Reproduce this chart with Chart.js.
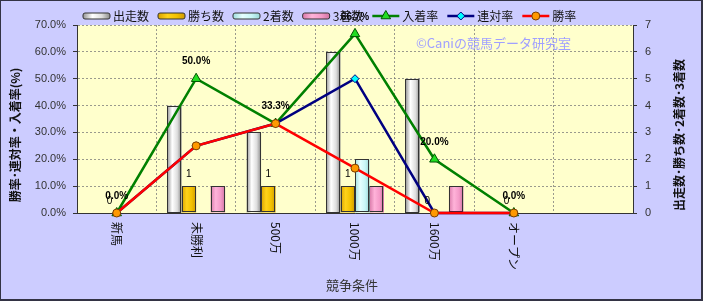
<!DOCTYPE html>
<html lang="ja">
<head>
<meta charset="utf-8">
<title>競争条件別成績</title>
<script src="https://cdn.jsdelivr.net/npm/chart.js@4/dist/chart.umd.min.js"></script>
<style>
  html, body { margin: 0; padding: 0; background: #ccccff; }
  #wrap { width: 703px; height: 301px; }
  canvas { display: block; }
</style>
</head>
<body>
<div id="wrap"><canvas id="raceChart" width="703" height="301"></canvas></div>
<script>
// 競争条件別 成績グラフ

// 横軸（競争条件）
const categories = ['新馬', '未勝利', '500万', '1000万', '1600万', 'オープン', ''];

// 頭数（右軸）
const runners = [0, 4, 3, 6, 5, 0, null];
const wins = [0, 1, 1, 1, 0, 0, null];
const seconds = [0, 0, 0, 2, 0, 0, null];
const thirds = [0, 1, 0, 1, 1, 0, null];

// 率（左軸, %）
const placeRate = [0, 50.0, 33.3, 66.7, 20.0, 0, null];
const rentaiRate = [0, 25.0, 33.3, 50.0, 0, 0, null];
const winRate = [0, 25.0, 33.3, 16.7, 0, 0, null];

// 目盛り
const rateTicks = [0, 10, 20, 30, 40, 50, 60, 70];
const countTicks = [0, 1, 2, 3, 4, 5, 6, 7];

const FONT_JP = "'Noto Sans CJK JP', 'Noto Sans', sans-serif";
const FONT_NUM = "'Liberation Sans', 'Noto Sans CJK JP', sans-serif";

// 棒の見た目（横グラデーション）
const barLooks = [
    { label: '出走数', stops: ['#949494', '#ffffff', '#dddddd', '#8a8a8a'] },
    { label: '勝ち数', stops: ['#d9a200', '#ffd21a', '#f2c000', '#d09a00'] },
    { label: '2着数', stops: ['#9fdede', '#e6ffff', '#c8f6f6', '#98d6d6'] },
    { label: '3着数', stops: ['#d97aa9', '#ffb3d9', '#f49ac8', '#d073a2'] }
];

// 折れ線の見た目
const lineLooks = [
    { label: '入着率', color: '#008000', fill: '#22dd22', edge: '#005500', style: 'triangle', radius: 5.5 },
    { label: '連対率', color: '#000080', fill: '#00ffff', edge: '#000080', style: 'rectRot', radius: 4 },
    { label: '勝率', color: '#ff0000', fill: '#ff9900', edge: '#7a3d00', style: 'circle', radius: 4 }
];

function barGradient(ctx, left, width, stops) {
    const g = ctx.createLinearGradient(left, 0, left + width, 0);
    g.addColorStop(0, stops[0]);
    g.addColorStop(0.35, stops[1]);
    g.addColorStop(0.7, stops[2]);
    g.addColorStop(1, stops[3]);
    return g;
}

function drawMarker(ctx, look, x, y) {
    const r = look.radius;
    ctx.save();
    ctx.fillStyle = look.fill;
    ctx.strokeStyle = look.edge;
    ctx.lineWidth = 1;
    ctx.beginPath();
    if (look.style === 'triangle') {
        ctx.moveTo(x, y - r);
        ctx.lineTo(x + r * 0.87, y + r * 0.5);
        ctx.lineTo(x - r * 0.87, y + r * 0.5);
        ctx.closePath();
    } else if (look.style === 'rectRot') {
        ctx.moveTo(x, y - r);
        ctx.lineTo(x + r, y);
        ctx.lineTo(x, y + r);
        ctx.lineTo(x - r, y);
        ctx.closePath();
    } else {
        ctx.arc(x, y, r, 0, Math.PI * 2);
    }
    ctx.fill();
    ctx.stroke();
    ctx.restore();
}

// 背景（外側ラベンダー、プロット内は薄黄）
const backgroundPlugin = {
    id: 'backgroundPlugin',
    beforeDraw(chart) {
        const { ctx, chartArea: a } = chart;
        ctx.save();
        ctx.fillStyle = '#ccccff';
        ctx.fillRect(0, 0, chart.width, chart.height);
        ctx.fillStyle = '#ffffcc';
        ctx.fillRect(a.left, a.top, a.right - a.left, a.bottom - a.top);
        ctx.restore();
    },
    beforeDatasetsDraw(chart) {
        const ctx = chart.ctx;
        ctx.save();
        ctx.font = '13px ' + FONT_JP;
        ctx.fillStyle = '#a0a0ff';
        ctx.textAlign = 'left';
        ctx.textBaseline = 'middle';
        ctx.fillText('©Caniの競馬データ研究室', 416, 43);
        ctx.restore();
    }
};

// 棒をグラデーションで塗り直す
const barPainter = {
    id: 'barPainter',
    afterDatasetDraw(chart, args) {
        const meta = args.meta;
        if (meta.type !== 'bar') return;
        const look = barLooks[args.index];
        const ctx = chart.ctx;
        ctx.save();
        meta.data.forEach(el => {
            const p = el.getProps(['x', 'y', 'base', 'width'], true);
            const h = p.base - p.y;
            if (!isFinite(h) || Math.abs(h) < 0.5) return;
            const left = p.x - p.width / 2;
            ctx.fillStyle = barGradient(ctx, left, p.width, look.stops);
            ctx.fillRect(left, p.y, p.width, h);
            ctx.strokeStyle = '#333333';
            ctx.lineWidth = 1;
            ctx.strokeRect(Math.round(left) + 0.5, Math.round(p.y) + 0.5, Math.round(p.width) - 1, Math.round(h) - 1);
        });
        ctx.restore();
    }
};

// データラベル（勝ち数・入着率）
const labelPlugin = {
    id: 'labelPlugin',
    afterDatasetsDraw(chart) {
        const ctx = chart.ctx;
        ctx.save();
        ctx.fillStyle = '#000000';
        ctx.textAlign = 'center';
        ctx.textBaseline = 'middle';

        const winMeta = chart.getDatasetMeta(1);
        ctx.font = '10px ' + FONT_NUM;
        winMeta.data.forEach((el, i) => {
            if (wins[i] === null) return;
            const p = el.getProps(['x', 'y'], true);
            ctx.fillText(String(wins[i]), p.x, p.y - 12);
        });

        const placeMeta = chart.getDatasetMeta(4);
        ctx.font = 'bold 10px ' + FONT_NUM;
        placeMeta.data.forEach((el, i) => {
            if (placeRate[i] === null) return;
            const p = el.getProps(['x', 'y'], true);
            ctx.fillText(placeRate[i].toFixed(1) + '%', p.x, p.y - 17);
        });
        ctx.restore();
    }
};

// 横軸ラベル・軸タイトル・凡例・外枠
const decorPlugin = {
    id: 'decorPlugin',
    afterDraw(chart) {
        const ctx = chart.ctx;
        const xs = chart.scales.x;
        ctx.save();

        // 横軸ラベル（時計回りに90度）
        ctx.fillStyle = '#111111';
        ctx.font = '12px ' + FONT_JP;
        ctx.textAlign = 'left';
        ctx.textBaseline = 'middle';
        categories.forEach((c, i) => {
            if (!c) return;
            ctx.save();
            ctx.translate(xs.getPixelForTick(i), 222);
            ctx.rotate(Math.PI / 2);
            ctx.fillText(c, 0, 0);
            ctx.restore();
        });

        // 軸タイトル
        ctx.textAlign = 'center';
        ctx.font = '13px ' + FONT_JP;
        ctx.fillStyle = '#333333';
        ctx.fillText('競争条件', 352, 285);

        ctx.font = 'bold 12px ' + FONT_JP;
        ctx.fillStyle = '#111111';
        [[15, '勝率･連対率・入着率(%)'], [679, '出走数･勝ち数･2着数･3着数']].forEach(([x, t]) => {
            ctx.save();
            ctx.translate(x, 135);
            ctx.rotate(-Math.PI / 2);
            ctx.fillText(t, 0, 0);
            ctx.restore();
        });

        // 凡例
        let lx = 83;
        const ly = 16;
        ctx.font = '12px ' + FONT_JP;
        ctx.textAlign = 'left';
        ctx.fillStyle = '#111111';
        barLooks.forEach(look => {
            ctx.fillStyle = barGradient(ctx, lx, 27, look.stops);
            ctx.beginPath();
            ctx.roundRect(lx, ly - 3, 27, 6, 2);
            ctx.fill();
            ctx.strokeStyle = '#333333';
            ctx.lineWidth = 1;
            ctx.stroke();
            ctx.fillStyle = '#111111';
            ctx.fillText(look.label, lx + 30, ly);
            lx += 30 + ctx.measureText(look.label).width + 9;
        });
        lineLooks.forEach(look => {
            ctx.strokeStyle = look.color;
            ctx.lineWidth = 2.5;
            ctx.beginPath();
            ctx.moveTo(lx, ly);
            ctx.lineTo(lx + 27, ly);
            ctx.stroke();
            drawMarker(ctx, look, lx + 13.5, ly);
            ctx.fillStyle = '#111111';
            ctx.fillText(look.label, lx + 30, ly);
            lx += 30 + ctx.measureText(look.label).width + 9;
        });

        // 外枠
        ctx.fillStyle = '#333344';
        ctx.fillRect(0, 0, chart.width, 1);
        ctx.fillRect(0, 0, 1, chart.height);
        ctx.fillRect(chart.width - 2, 0, 2, chart.height);
        ctx.fillRect(0, chart.height - 2, chart.width, 2);
        ctx.restore();
    }
};

function buildDatasets() {
    const barSeries = [runners, wins, seconds, thirds];
    const bars = barLooks.map((look, i) => ({
        type: 'bar',
        label: look.label,
        data: barSeries[i],
        yAxisID: 'y1',
        backgroundColor: 'rgba(0,0,0,0)',
        borderWidth: 0,
        categoryPercentage: 0.73,
        barPercentage: 1.0,
        order: 10
    }));
    const lineSeries = [placeRate, rentaiRate, winRate];
    const lines = lineLooks.map((look, i) => ({
        type: 'line',
        label: look.label,
        data: lineSeries[i],
        yAxisID: 'y',
        borderColor: look.color,
        borderWidth: 2.5,
        pointStyle: look.style,
        pointRadius: look.radius,
        pointBackgroundColor: look.fill,
        pointBorderColor: look.edge,
        pointBorderWidth: 1,
        tension: 0,
        clip: false,
        order: 3 - i
    }));
    return bars.concat(lines);
}

function initChart() {
    const ctx = document.getElementById('raceChart').getContext('2d');
    return new Chart(ctx, {
        type: 'bar',
        data: { labels: categories, datasets: buildDatasets() },
        options: {
            responsive: false,
            animation: false,
            layout: { padding: { top: 25, left: 0, right: 0, bottom: 0 } },
            plugins: {
                legend: { display: false },
                tooltip: { enabled: false }
            },
            scales: {
                x: {
                    offset: true,
                    grid: { offset: true, color: 'rgba(120,120,120,0.75)', drawTicks: false },
                    border: { color: '#333333', dash: [2, 2] },
                    ticks: { display: false },
                    afterFit: s => { s.height = 88; }
                },
                y: {
                    position: 'left',
                    min: rateTicks[0],
                    max: rateTicks[rateTicks.length - 1],
                    afterBuildTicks: s => { s.ticks = rateTicks.map(v => ({ value: v })); },
                    grid: { color: 'rgba(120,120,120,0.75)', tickLength: 4, tickColor: '#333333' },
                    border: { color: '#333333', dash: [2, 2] },
                    ticks: {
                        padding: 7,
                        color: '#333333',
                        font: { family: FONT_NUM, size: 11 },
                        callback: v => v.toFixed(1) + '%'
                    },
                    afterFit: s => { s.width = 77; }
                },
                y1: {
                    position: 'right',
                    min: countTicks[0],
                    max: countTicks[countTicks.length - 1],
                    afterBuildTicks: s => { s.ticks = countTicks.map(v => ({ value: v })); },
                    grid: { drawOnChartArea: false, tickLength: 4, tickColor: '#333333' },
                    border: { color: '#333333' },
                    ticks: {
                        padding: 8,
                        color: '#333333',
                        font: { family: FONT_NUM, size: 11 }
                    },
                    afterFit: s => { s.width = 70; }
                }
            }
        },
        plugins: [backgroundPlugin, barPainter, labelPlugin, decorPlugin]
    });
}

document.addEventListener('DOMContentLoaded', function() {
    window.raceChart = initChart();
});
</script>
</body>
</html>
